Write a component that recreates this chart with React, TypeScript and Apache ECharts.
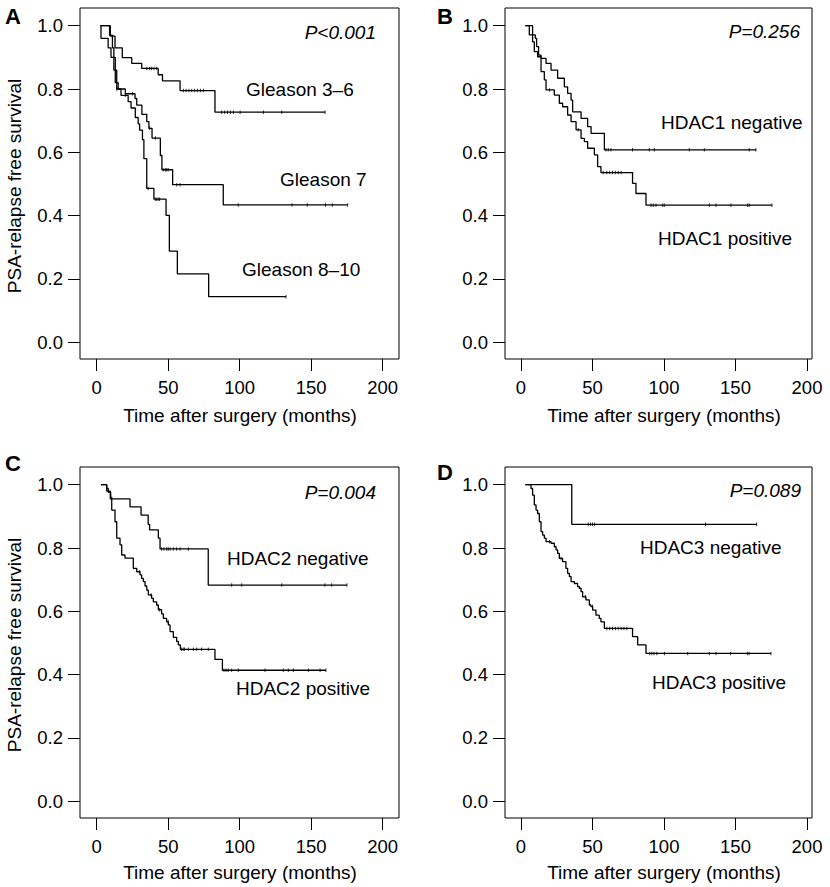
import React, { useEffect, useRef } from "react";
import * as echarts from "echarts";

const FONT = '"Liberation Sans", Arial, Helvetica, sans-serif';

// ---- tick labels ----
const xTicks = [0, 50, 100, 150, 200];
const yTicks = [0, 0.2, 0.4, 0.6, 0.8, 1.0];

// ---- Panel A: Gleason ----
const g36Time = [2.5, 9.5, 12.8, 17.9, 24.5, 31.5, 43, 46, 58.3, 82.7, 159.7];
const g36Surv = [1, 0.967, 0.93, 0.899, 0.881, 0.865, 0.845, 0.826, 0.795, 0.727, 0.727];
const g36Cens = [35, 37, 38.4, 40, 41.9, 60.6, 62.5, 64.5, 66.5, 68.5, 70.5, 72.5, 74.6, 87.4, 89.5, 91.5, 93.5, 95.6, 100.3, 116.6, 129.4, 159.7];

const g7Time = [3, 9, 11, 12, 13, 14, 15, 20, 26.8, 28, 31.6, 35, 36.5, 38.7, 44.5, 45.6, 53.1, 88.5, 175.5];
const g7Surv = [1, 0.97, 0.93, 0.9, 0.86, 0.82, 0.8, 0.785, 0.77, 0.749, 0.72, 0.697, 0.676, 0.645, 0.59, 0.545, 0.498, 0.434, 0.434];
const g7Cens = [25, 37, 41, 46.5, 48, 49, 50, 56, 58.3, 99, 136.6, 147.3, 160, 164.8, 175.5];

const g810Time = [2.5, 3, 8, 10, 12, 13, 14, 17, 22, 24, 27, 29, 30, 32, 33, 35, 40, 48.5, 50.8, 56.4, 78.3, 132.4];
const g810Surv = [1, 0.96, 0.93, 0.9, 0.86, 0.82, 0.8, 0.78, 0.76, 0.74, 0.71, 0.69, 0.67, 0.64, 0.58, 0.486, 0.452, 0.401, 0.288, 0.216, 0.144, 0.144];
const g810Cens = [14, 20, 36, 41, 42, 43, 44, 132.4];

// ---- Panel B: HDAC1 ----
const h1nTime = [3, 8.1, 10, 10.9, 12.3, 14, 17.5, 21, 25.6, 30.3, 32.6, 35, 36.1, 42, 46.6, 49, 58.3, 164.3];
const h1nSurv = [1, 0.971, 0.96, 0.934, 0.907, 0.897, 0.881, 0.86, 0.834, 0.807, 0.786, 0.765, 0.728, 0.707, 0.681, 0.66, 0.608, 0.608];
const h1nCens = [59.4, 61, 62.9, 78, 89.7, 93.2, 117.7, 128.2, 159.6, 164.3];

const h1pTime = [3, 5.8, 8.1, 9.3, 11.6, 14, 16.3, 17.5, 23.3, 26.8, 29.1, 32.6, 35, 38.5, 42, 44.3, 46.6, 51.3, 53.6, 55.9, 78, 80.4, 87.4, 175.5];
const h1pSurv = [1, 0.971, 0.949, 0.918, 0.902, 0.855, 0.829, 0.797, 0.781, 0.755, 0.744, 0.718, 0.697, 0.671, 0.644, 0.634, 0.613, 0.592, 0.555, 0.536, 0.502, 0.47, 0.433, 0.433];
const h1pCens = [20, 40, 57.5, 60, 62, 64, 66, 68, 70, 90.9, 92.5, 94.4, 99.1, 100.2, 131.7, 136.3, 146.8, 158.5, 159.6, 175.5];

// ---- Panel C: HDAC2 ----
const h2nTime = [3, 7, 9.5, 23.3, 31, 36, 37, 43.1, 44.3, 78, 175];
const h2nSurv = [1, 0.98, 0.955, 0.93, 0.904, 0.875, 0.857, 0.831, 0.797, 0.683, 0.683];
const h2nCens = [45.4, 47, 48.9, 50, 51.3, 53.6, 55.9, 58.3, 64.1, 94.4, 101.4, 129.4, 159.6, 164.3, 175];

const h2pTime = [3, 7, 8.1, 9.8, 10.5, 12.8, 14, 16.3, 17.5, 19.8, 25.6, 28, 30.3, 31.4, 32.6, 33.8, 35, 36.1, 38.4, 39.6, 41.9, 43.1, 45.4, 46.6, 48.9, 50.1, 51.3, 53.6, 55.9, 57.1, 58.5, 82.7, 87.9, 160.3];
const h2pSurv = [1, 0.988, 0.976, 0.96, 0.92, 0.883, 0.831, 0.81, 0.778, 0.768, 0.736, 0.725, 0.715, 0.704, 0.694, 0.68, 0.667, 0.652, 0.641, 0.63, 0.62, 0.605, 0.592, 0.578, 0.567, 0.557, 0.536, 0.518, 0.505, 0.494, 0.48, 0.448, 0.414, 0.414];
const h2pCens = [30, 38, 44, 50, 59.4, 60.5, 61.5, 64.1, 67.6, 69.9, 73.4, 78, 89, 90.5, 92, 94.4, 99, 117.7, 130.5, 134, 137.5, 148, 156.2, 160.3];

// ---- Panel D: HDAC3 ----
const h3nTime = [3, 35.5, 164.8];
const h3nSurv = [1, 0.875, 0.875];
const h3nCens = [47, 48.5, 50, 51.5, 129, 164.8];

const h3pTime = [3, 7, 8.1, 9.3, 10.5, 11.6, 12.8, 14, 15.1, 16.3, 17.5, 21, 23.3, 24.5, 25.6, 26.8, 29.1, 31.4, 32.6, 33.8, 35, 37.3, 39.6, 40.8, 42, 43.1, 45.4, 47.8, 48.9, 50.1, 52.4, 54.7, 55.9, 58.3, 78, 81.6, 87.4, 174.8];
const h3pSurv = [1, 0.988, 0.967, 0.936, 0.92, 0.909, 0.883, 0.852, 0.841, 0.831, 0.82, 0.815, 0.804, 0.794, 0.783, 0.767, 0.757, 0.736, 0.72, 0.71, 0.694, 0.688, 0.678, 0.673, 0.662, 0.646, 0.636, 0.62, 0.615, 0.604, 0.588, 0.578, 0.567, 0.546, 0.52, 0.494, 0.467, 0.467];
const h3pCens = [20, 28, 45, 50, 60, 62, 64, 66, 68, 70, 72, 74, 90, 91.5, 93, 95, 100.3, 116.6, 131.7, 136.4, 146.6, 158.3, 159.5, 174.8];

// ---- text ----
const pValues = ["P<0.001", "P=0.256", "P=0.004", "P=0.089"];
const panelLetters = ["A", "B", "C", "D"];
const yTitle = "PSA-relapse free survival";
const xTitle = "Time after surgery (months)";

function stepAt(times: number[], surv: number[], t: number) {
  let v = surv[0];
  for (let i = 0; i < times.length; i++) {
    if (times[i] <= t) v = surv[i];
  }
  return v;
}

export default function App() {
  const ref = useRef<HTMLDivElement>(null);
  useEffect(() => {
    const chart = echarts.init(ref.current!, null, { renderer: "svg" });

    const grids = [
      { left: 80, top: 8, width: 319, height: 351, xmin: -11.68, xmax: 211.4 },
      { left: 505, top: 8, width: 307, height: 351, xmin: -11.2, xmax: 203.5 },
      { left: 80, top: 467, width: 319, height: 351, xmin: -11.68, xmax: 211.4 },
      { left: 505, top: 467, width: 307, height: 351, xmin: -11.2, xmax: 203.5 },
    ];
    const yMin = -0.0527;
    const yMax = 1.0559;

    const curves = [
      { p: 0, t: g36Time, s: g36Surv, c: g36Cens },
      { p: 0, t: g7Time, s: g7Surv, c: g7Cens },
      { p: 0, t: g810Time, s: g810Surv, c: g810Cens },
      { p: 1, t: h1nTime, s: h1nSurv, c: h1nCens },
      { p: 1, t: h1pTime, s: h1pSurv, c: h1pCens },
      { p: 2, t: h2nTime, s: h2nSurv, c: h2nCens },
      { p: 2, t: h2pTime, s: h2pSurv, c: h2pCens },
      { p: 3, t: h3nTime, s: h3nSurv, c: h3nCens },
      { p: 3, t: h3pTime, s: h3pSurv, c: h3pCens },
    ];

    const series: any[] = [];
    curves.forEach((cv) => {
      series.push({
        type: "line",
        xAxisIndex: cv.p,
        yAxisIndex: cv.p,
        step: "end",
        showSymbol: false,
        silent: true,
        lineStyle: { color: "#000", width: 1.3 },
        data: cv.t.map((t, i) => [t, cv.s[i]]),
      });
      series.push({
        type: "scatter",
        xAxisIndex: cv.p,
        yAxisIndex: cv.p,
        symbol: "rect",
        symbolSize: [1, 3.5],
        silent: true,
        itemStyle: { color: "#000" },
        data: cv.c.map((t) => [t, stepAt(cv.t, cv.s, t)]),
        z: 3,
      });
    });

    const txt = (
      text: string,
      x: number,
      y: number,
      align: string,
      extra: any = {},
      rotation = 0
    ) => ({
      type: "text",
      x,
      y,
      rotation,
      silent: true,
      style: {
        text,
        fill: "#000",
        fontFamily: FONT,
        fontSize: 19,
        align,
        verticalAlign: "middle",
        ...extra,
      },
    });

    const graphic: any[] = [
      // panel letters
      txt(panelLetters[0], 5, 16, "left", { fontWeight: "bold", fontSize: 22 }),
      txt(panelLetters[1], 437, 16, "left", { fontWeight: "bold", fontSize: 22 }),
      txt(panelLetters[2], 5, 463, "left", { fontWeight: "bold", fontSize: 22 }),
      txt(panelLetters[3], 437, 472, "left", { fontWeight: "bold", fontSize: 22 }),
      // p values
      txt(pValues[0], 376, 32, "right", { fontStyle: "italic" }),
      txt(pValues[1], 800, 31, "right", { fontStyle: "italic" }),
      txt(pValues[2], 376, 492, "right", { fontStyle: "italic" }),
      txt(pValues[3], 801, 490, "right", { fontStyle: "italic" }),
      // curve labels
      txt("Gleason 3\u20136", 246, 89, "left"),
      txt("Gleason 7", 280, 179, "left"),
      txt("Gleason 8\u201310", 242, 269, "left"),
      txt("HDAC1 negative", 661, 122, "left"),
      txt("HDAC1 positive", 658, 238, "left"),
      txt("HDAC2 negative", 227, 558, "left"),
      txt("HDAC2 positive", 236, 688, "left"),
      txt("HDAC3 negative", 640, 547, "left"),
      txt("HDAC3 positive", 652, 682, "left"),
      // axis titles
      txt(yTitle, 14, 186, "center", {}, Math.PI / 2),
      txt(yTitle, 14, 645, "center", {}, Math.PI / 2),
      txt(xTitle, 240, 415, "center"),
      txt(xTitle, 664, 415, "center"),
      txt(xTitle, 240, 872, "center"),
      txt(xTitle, 664, 872, "center"),
    ];

    const option: any = {
      animation: false,
      backgroundColor: "#fff",
      grid: grids.map((g) => ({
        left: g.left,
        top: g.top,
        width: g.width,
        height: g.height,
        show: true,
        borderColor: "#000",
        borderWidth: 1,
        backgroundColor: "transparent",
        containLabel: false,
      })),
      xAxis: grids.map((g, i) => ({
        type: "value",
        gridIndex: i,
        min: g.xmin,
        max: g.xmax,
        axisLine: { show: false, onZero: false },
        axisTick: {
          show: true,
          inside: false,
          length: 12,
          customValues: xTicks,
          lineStyle: { color: "#000", width: 1 },
        },
        axisLabel: {
          customValues: xTicks,
          margin: 19,
          color: "#000",
          fontFamily: FONT,
          fontSize: 18.5,
          formatter: (v: number) => String(Math.round(v)),
        },
        splitLine: { show: false },
      })),
      yAxis: grids.map((g, i) => ({
        type: "value",
        gridIndex: i,
        min: yMin,
        max: yMax,
        axisLine: { show: false, onZero: false },
        axisTick: {
          show: true,
          inside: false,
          length: 12,
          customValues: yTicks,
          lineStyle: { color: "#000", width: 1 },
        },
        axisLabel: {
          customValues: yTicks,
          margin: 17,
          color: "#000",
          fontFamily: FONT,
          fontSize: 18.5,
          formatter: (v: number) => v.toFixed(1),
        },
        splitLine: { show: false },
      })),
      series,
      graphic,
    };

    chart.setOption(option);
    return () => chart.dispose();
  }, []);

  return (
    <div
      ref={ref}
      style={{ position: "absolute", left: 0, top: 0, width: 830, height: 887, background: "#fff" }}
    />
  );
}
